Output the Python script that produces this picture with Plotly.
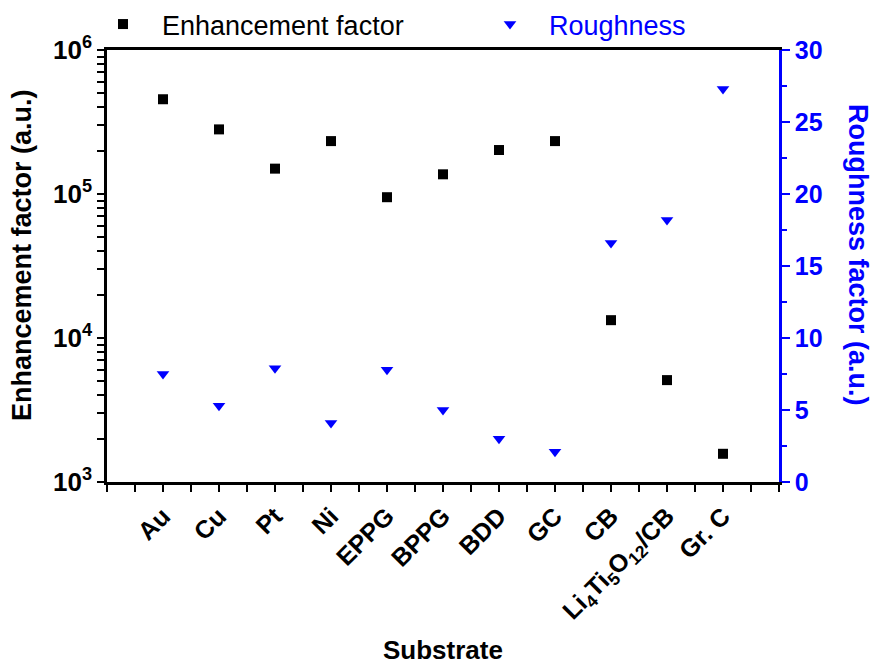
import plotly.graph_objects as go

substrates = ["Au", "Cu", "Pt", "Ni", "EPPG", "BPPG", "BDD", "GC", "CB",
              "Li<sub>4</sub>Ti<sub>5</sub>O<sub>12</sub>/CB", "Gr. C"]
positions = list(range(1, len(substrates) + 1))
enhancement = [4.55e5, 2.81e5, 1.50e5, 2.33e5, 9.5e4, 1.37e5, 2.02e5, 2.33e5, 1.33e4, 5.1e3, 1.57e3]
roughness = [7.5, 5.3, 7.9, 4.1, 7.8, 5.0, 3.0, 2.1, 16.6, 18.2, 27.3]

decades = [1e3, 1e4, 1e5, 1e6]
decade_labels = ["10<sup>3</sup>", "10<sup>4</sup>", "10<sup>5</sup>", "10<sup>6</sup>"]
# every log tick position (1..9 per decade), labelled only at the decades
left_tickvals = []
left_ticktext = []
for d, lab in zip(decades, decade_labels):
    left_tickvals.append(d)
    left_ticktext.append(lab)
    if d < 1e6:
        for m in range(2, 10):
            left_tickvals.append(m * d)
            left_ticktext.append("")

BLUE = "#0000ff"
FONT = "Liberation Sans, Arial, sans-serif"
W, H = 879, 666
L, R, T, B = 107, 100, 50, 184
PW = W - L - R
PH = H - T - B

fig = go.Figure()
fig.add_trace(go.Scatter(
    x=positions, y=enhancement, mode="markers", name="Enhancement factor",
    marker=dict(symbol="square", size=10, color="black"),
    legend="legend", yaxis="y"))
fig.add_trace(go.Scatter(
    x=positions, y=roughness, mode="markers",
    name='<span style="color:#0000ff">Roughness</span>',
    marker=dict(symbol="triangle-down", size=11, color=BLUE),
    legend="legend2", yaxis="y2"))

fig.update_layout(
    width=W, height=H, showlegend=True,
    margin=dict(l=L, r=R, t=T, b=B, autoexpand=False),
    paper_bgcolor="white", plot_bgcolor="white",
    font=dict(family=FONT, color="black"),
    legend=dict(orientation="h", xref="container", yref="container",
                x=84 / W, y=1.0, xanchor="left", yanchor="top",
                font=dict(size=27, color="black"), bgcolor="rgba(0,0,0,0)", itemwidth=68),
    legend2=dict(orientation="h", xref="container", yref="container",
                 x=471 / W, y=1.0, xanchor="left", yanchor="top",
                 font=dict(size=27, color=BLUE), bgcolor="rgba(0,0,0,0)", itemwidth=68),
    xaxis=dict(
        range=[0, 12], tickmode="array", tickvals=positions, ticktext=substrates,
        tickangle=-45, ticks="outside", ticklen=7, tickwidth=2, tickcolor="black",
        minor=dict(ticks="outside", tick0=0, dtick=0.5, ticklen=7, tickwidth=2, tickcolor="black"),
        showline=True, linecolor="black", linewidth=2.5, mirror=True,
        showgrid=False, zeroline=False, automargin=False,
        tickfont=dict(size=25, family=FONT, weight="bold", color="black"),
    ),
    yaxis=dict(
        type="log", range=[3, 6], tickmode="array", tickvals=left_tickvals, ticktext=left_ticktext,
        ticks="outside", ticklen=7, tickwidth=2, tickcolor="black",
        showline=True, linecolor="black", linewidth=2.5,
        showgrid=False, zeroline=False, automargin=False,
        tickfont=dict(size=26, family=FONT, weight="bold", color="black"),
    ),
    yaxis2=dict(
        overlaying="y", side="right", range=[0, 30], dtick=5, tick0=0,
        ticks="outside", ticklen=8, tickwidth=2, tickcolor=BLUE,
        minor=dict(ticks="outside", dtick=2.5, tick0=0, ticklen=5, tickwidth=2, tickcolor=BLUE),
        showline=True, linecolor=BLUE, linewidth=2.5,
        showgrid=False, zeroline=False, automargin=False,
        tickfont=dict(size=25, family=FONT, weight="bold", color=BLUE),
    ),
    annotations=[
        dict(text="Enhancement factor (a.u.)", xref="paper", yref="paper",
             x=(22 - L) / PW, y=1 - (255 - T) / PH, showarrow=False, textangle=-90,
             font=dict(size=27, family=FONT, weight="bold", color="black"),
             xanchor="center", yanchor="middle"),
        dict(text="Roughness factor (a.u.)", xref="paper", yref="paper",
             x=(858 - L) / PW, y=1 - (255 - T) / PH, showarrow=False, textangle=90,
             font=dict(size=27, family=FONT, weight="bold", color=BLUE),
             xanchor="center", yanchor="middle"),
        dict(text="Substrate", xref="paper", yref="paper",
             x=(443 - L) / PW, y=-(650 - (H - B)) / PH, showarrow=False,
             font=dict(size=26, family=FONT, weight="bold", color="black"),
             xanchor="center", yanchor="middle"),
    ],
)

fig.write_html("out.html")
